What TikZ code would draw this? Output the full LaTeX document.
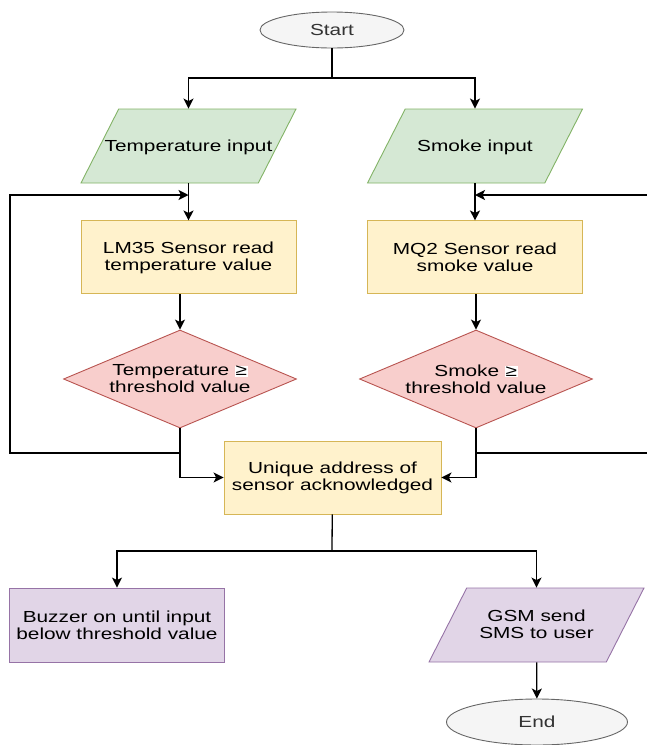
\documentclass[tikz,border=0pt]{standalone}
\usepackage{fontspec}
\setmainfont{Liberation Sans}[FakeStretch=1.3]
\usetikzlibrary{shapes.geometric, positioning, arrows.meta}
\definecolor{greyfill}{HTML}{F5F5F5}
\definecolor{greyline}{HTML}{666666}
\definecolor{greytext}{HTML}{333333}
\definecolor{greenfill}{HTML}{D5E8D4}
\definecolor{greenline}{HTML}{82B366}
\definecolor{yellowfill}{HTML}{FFF2CC}
\definecolor{yellowline}{HTML}{D6B656}
\definecolor{redfill}{HTML}{F8CECC}
\definecolor{redline}{HTML}{B85450}
\definecolor{purplefill}{HTML}{E1D5E7}
\definecolor{purpleline}{HTML}{9673A6}
% text of a slanted box: no width of its own, full box height
\newcommand{\slanttext}[1]{\makebox[0pt]{\rule[-30.65pt]{0pt}{74pt}$\vcenter{\hbox{\begin{tabular}{@{}c@{}}#1\end{tabular}}}$}}
\newcommand{\geqmark}{{\setlength{\fboxsep}{0.6pt}\colorbox{white}{≥}}}
\tikzset{
flow/.style={-{Stealth[length=10pt,width=10pt,inset=2.5pt]}, line width=1.3pt}, % connectors
base/.style={font=\fontsize{16}{17}\selectfont, text=black, line width=0.9pt, inner sep=0pt, align=center}, % common node look
terminal/.style={base, ellipse, fill=greyfill, draw=greyline, text=greytext}, % start and end
io/.style={base, trapezium, trapezium left angle=63, trapezium right angle=117, trapezium stretches body=true, minimum width=215pt, minimum height=74pt}, % input / output
proc/.style={base, rectangle, minimum width=215pt, minimum height=73pt}, % process boxes
decision/.style={base, diamond, aspect=2.4, minimum width=233pt, minimum height=98pt}, % threshold checks
}

\begin{document}
\begin{tikzpicture}[x=1pt, y=-1pt]
\useasboundingbox (0,0) rectangle (647,745);

\node[terminal, minimum width=144pt, minimum height=36pt] (start) at (332,30) {Start};
\node[io, fill=greenfill, draw=greenline] (tin) at (188.5,146) {\slanttext{Temperature input}};
\node[io, fill=greenfill, draw=greenline] (smin) at (475,146) {\slanttext{Smoke input}};
\node[proc, fill=yellowfill, draw=yellowline, below=37pt of tin] (lm35) {LM35 Sensor read\\temperature value};
\node[proc, fill=yellowfill, draw=yellowline, below=37pt of smin] (mq2) {MQ2 Sensor read\\smoke value};
\node[decision, fill=redfill, draw=redline] (tdec) at (180,379) {Temperature \geqmark\\threshold value};
\node[decision, fill=redfill, draw=redline] (sdec) at (476,379) {Smoke \geqmark\\threshold value};
\node[proc, fill=yellowfill, draw=yellowline, minimum width=217pt] (uniq) at (332.5,477.5) {Unique address of\\sensor acknowledged};
\node[proc, fill=purplefill, draw=purpleline, minimum height=74pt] (buzz) at (117,625) {Buzzer on until input\\below threshold value};
\node[io, fill=purplefill, draw=purpleline] (gsm) at (536.5,625) {\slanttext{GSM send\\SMS to user}};
\node[terminal, minimum width=181pt, minimum height=46pt] (end) at (537,722) {End};

\coordinate (fork) at (332,78);
\coordinate (tback) at (188.5,195);
\coordinate (sback) at (475,195);
\coordinate (tsplit) at (180,453);
\coordinate (ssplit) at (476,453);
\coordinate (fork2) at (332,551);

\draw[line width=1.3pt] (start) -- (fork);
\draw[flow] (fork) -| (tin.north);
\draw[flow] (fork) -| (smin.north);
\draw[flow] (tin) -- (lm35);
\draw[flow] (smin) -- (mq2);
\draw[flow] (lm35.south -| tdec.north) -- (tdec.north);
\draw[flow] (mq2.south -| sdec.north) -- (sdec.north);
\draw[flow] (tdec.south) |- (uniq.west);
\draw[flow] (sdec.south) |- (uniq.east);
% loops back while below threshold
\draw[flow] (tsplit) -- (10,453) |- (tback);
\draw[flow] (ssplit) -- (650,453) |- (sback);
\draw[line width=1.3pt] (uniq) -- (fork2);
\draw[flow] (fork2) -| (buzz.north);
\draw[flow] (fork2) -| (gsm.north);
\draw[flow] (gsm) -- (end);
\end{tikzpicture}
\end{document}
